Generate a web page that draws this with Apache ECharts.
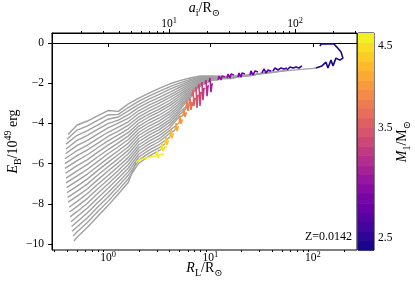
<!DOCTYPE html>
<html><head><meta charset="utf-8">
<script src="https://cdn.jsdelivr.net/npm/echarts@6/dist/echarts.min.js"></script>
<style>html,body{margin:0;padding:0;background:#fff}#c{width:415px;height:282px}</style>
</head><body><div id="c"></div>
<script>
// ---------------- data ----------------
const R_GRID = [0.5, 0.63, 0.79, 1, 1.26, 1.58, 2, 2.51, 3.16, 3.98, 5.01, 6.31, 7.94, 10, 15.8, 25.1, 39.8, 63.1, 100];
const M1 = [2.45,2.52,2.59,2.67,2.74,2.82,2.91,2.99,3.08,3.17,3.26,3.36,3.46,3.56,3.66,3.77,3.88,3.99,4.11,4.23,4.35,4.48,4.61];
const START_R = [0.407,0.398,0.389,0.389,0.385,0.380,0.380,0.380,0.385,0.389,0.389,0.394,0.398,0.403,0.407,0.417,0.421,0.426,0.436,0.441,0.446,0.456,0.466];
const START_E = [-4.55,-4.79,-5.03,-5.27,-5.51,-5.76,-6.00,-6.24,-6.48,-6.72,-6.96,-7.20,-7.44,-7.68,-7.92,-8.17,-8.41,-8.65,-8.89,-9.13,-9.37,-9.61,-9.85];
const E_TRACK = [
 [-4.08,-3.88,-3.62,-3.36,-3.40,-3.03,-2.74,-2.49,-2.26,-2.04,-1.87,-1.74,-1.64,-1.64,-1.66,-1.57,-1.46,-1.35,-1.26],
 [-4.33,-4.12,-3.85,-3.58,-3.55,-3.21,-2.89,-2.64,-2.41,-2.18,-1.98,-1.82,-1.69,-1.67,-1.68,-1.59,-1.47],
 [-4.59,-4.36,-4.08,-3.79,-3.68,-3.38,-3.05,-2.79,-2.55,-2.31,-2.09,-1.89,-1.73,-1.70,-1.71,-1.61],
 [-4.84,-4.60,-4.30,-4.01,-3.84,-3.56,-3.20,-2.94,-2.70,-2.45,-2.20,-1.97,-1.78,-1.73,-1.73,-1.62],
 [-5.09,-4.84,-4.53,-4.22,-3.98,-3.74,-3.36,-3.09,-2.85,-2.59,-2.32,-2.04,-1.82,-1.76,-1.75],
 [-5.35,-5.08,-4.76,-4.44,-4.18,-3.92,-3.51,-3.24,-2.99,-2.72,-2.43,-2.12,-1.87,-1.79,-1.77],
 [-5.60,-5.32,-4.99,-4.65,-4.38,-4.09,-3.67,-3.39,-3.14,-2.86,-2.54,-2.20,-1.91,-1.82],
 [-5.85,-5.56,-5.21,-4.87,-4.57,-4.27,-3.82,-3.54,-3.29,-3.00,-2.65,-2.27,-1.96,-1.85],
 [-6.10,-5.80,-5.44,-5.08,-4.77,-4.45,-3.98,-3.68,-3.43,-3.13,-2.76,-2.35,-2.00],
 [-6.36,-6.04,-5.67,-5.30,-4.97,-4.62,-4.13,-3.83,-3.58,-3.27,-2.87,-2.42,-2.05],
 [-6.61,-6.28,-5.90,-5.51,-5.16,-4.80,-4.28,-3.98,-3.73,-3.41,-2.98,-2.50],
 [-6.86,-6.52,-6.13,-5.73,-5.36,-4.98,-4.44,-4.13,-3.87,-3.54,-3.10,-2.58],
 [-7.12,-6.76,-6.35,-5.94,-5.55,-5.16,-4.59,-4.28,-4.02,-3.68,-3.21,-2.65],
 [-7.37,-7.01,-6.58,-6.16,-5.75,-5.33,-4.75,-4.43,-4.17,-3.82,-3.32,-2.73],
 [-7.62,-7.25,-6.81,-6.37,-5.95,-5.51,-4.90,-4.58,-4.31,-3.95,-3.43],
 [-7.88,-7.49,-7.04,-6.59,-6.14,-5.69,-5.06,-4.73,-4.46,-4.09,-3.54],
 [-8.13,-7.73,-7.26,-6.80,-6.34,-5.86,-5.21,-4.88,-4.61,-4.23,-3.65],
 [-8.38,-7.97,-7.49,-7.02,-6.53,-6.04,-5.36,-5.03,-4.76,-4.36],
 [-8.63,-8.21,-7.72,-7.23,-6.73,-6.22,-5.52,-5.18,-4.90,-4.50],
 [-8.89,-8.45,-7.95,-7.45,-6.93,-6.40,-5.67,-5.33,-5.05],
 [-9.14,-8.69,-8.17,-7.66,-7.12,-6.57,-5.83,-5.48,-5.20],
 [-9.39,-8.93,-8.40,-7.88,-7.32,-6.75,-5.98,-5.63,-5.34],
 [-9.65,-9.17,-8.63,-8.09,-7.51,-6.93]
];
const SEG = [
 [[107,-1.24],[122.4,-1.14],[134,-0.95],[140,-1.24],[150,-0.85],[157,-1.14],[167.5,-0.75],[183,-0.85],[196,-0.75],[188,-0.45],[171,-0.20],[160,-0.05],[120,-0.05],[117,-0.15]],
 [[55.8,-1.34],[59.7,-1.19],[63.8,-1.24],[68.3,-1.19],[73.0,-1.24],[78.1,-1.14]],
 [[40.7,-1.39],[42.6,-1.24],[45.6,-1.34],[48.7,-1.24],[52.1,-1.29],[55.8,-1.24]],
 [[31.8,-1.49],[33.3,-1.29],[34.8,-1.49],[36.4,-1.34],[38.9,-1.39]],
 [[24.3,-1.59],[24.8,-1.39],[26.0,-1.59],[27.2,-1.39],[29.1,-1.44]],
 [[18.55,-1.69],[18.97,-1.49],[19.84,-1.69],[20.29,-1.49],[21.71,-1.54]],
 [[14.49,-1.74],[14.82,-1.54],[15.50,-1.74],[15.85,-1.54],[16.96,-1.59]],
 [[11.84,-1.84],[12.11,-1.64],[12.66,-1.84],[12.95,-1.64],[13.85,-1.69]],
 [[9.67,-1.94],[9.89,-1.74],[10.11,-2.44],[10.34,-2.04],[10.58,-2.04]],
 [[8.84,-2.04],[9.04,-1.84],[9.25,-2.64],[9.45,-2.14],[9.67,-2.14]],
 [[8.08,-2.14],[8.26,-1.94],[8.45,-2.84],[8.64,-2.24],[8.84,-2.29]],
 [[7.55,-2.24],[7.72,-2.04],[7.90,-3.13],[8.08,-2.44],[8.26,-2.49]],
 [[7.06,-2.39],[7.22,-2.19],[7.38,-3.23],[7.55,-2.59],[7.72,-2.64]],
 [[6.60,-2.64],[6.75,-2.34],[6.90,-3.13],[7.06,-2.74],[7.22,-2.84]],
 [[6.17,-3.03],[6.31,-2.74],[6.45,-3.33],[6.60,-2.94],[6.75,-3.13]],
 [[5.77,-3.28],[5.90,-2.89],[6.03,-3.38],[6.17,-3.08],[6.31,-3.13]],
 [[5.39,-3.63],[5.51,-3.28],[5.64,-3.68],[5.77,-3.48],[5.90,-3.48]],
 [[4.93,-3.98],[5.04,-3.63],[5.15,-4.03],[5.27,-3.83],[5.39,-3.83]],
 [[4.51,-4.33],[4.61,-3.98],[4.71,-4.38],[4.82,-4.18],[4.93,-4.18]],
 [[4.03,-4.68],[4.12,-4.33],[4.21,-4.73],[4.31,-4.53],[4.41,-4.53]],
 [[3.60,-5.02],[3.68,-4.68],[3.76,-5.07],[3.85,-4.88],[3.94,-4.88]],
 [[3.29,-5.32],[3.36,-4.98],[3.44,-5.37],[3.60,-5.17],[3.76,-5.17]],
 [[1.88,-5.92],[2.15,-5.77],[2.57,-5.67],[2.94,-5.62],[3.01,-5.37],[3.07,-5.72],[3.15,-5.57],[3.52,-5.52]]
];
const X_TICKS = [1, 10, 100];
const X_MINOR = [0.3,0.4,0.5,0.6,0.7,0.8,0.9,2,3,4,5,6,7,8,9,20,30,40,50,60,70,80,90,200];
const TOP_TICKS = [10, 100];
const TOP_MINOR = [2,3,4,5,6,7,8,9,20,30,40,50,60,70,80,90,200,300];
const Y_TICKS = [-10, -8, -6, -4, -2, 0];
const CB_TICKS = [2.5, 3.5, 4.5];
const CB_EDGES = [2.41,2.48,2.55,2.63,2.70,2.78,2.87,2.95,3.04,3.12,3.22,3.31,3.41,3.51,3.61,3.72,3.82,3.94,4.05,4.17,4.29,4.42,4.55,4.68];
const Z_LABEL = 'Z=0.0142';

// ---------------- styling helpers ----------------
const serif = '"Liberation Serif", "DejaVu Serif", serif';
const PLASMA = ['#0d0887','#41049d','#6a00a8','#8f0da4','#b12a90','#cc4778','#e16462','#f2844b','#fca636','#fcce25','#f0f921'];
function hx(h){return [parseInt(h.slice(1,3),16),parseInt(h.slice(3,5),16),parseInt(h.slice(5,7),16)];}
function plasma(t){
  t = Math.max(0, Math.min(1, t));
  const s = t * (PLASMA.length - 1), i = Math.min(PLASMA.length - 2, Math.floor(s)), f = s - i;
  const a = hx(PLASMA[i]), b = hx(PLASMA[i + 1]);
  return 'rgb(' + a.map((v, j) => Math.round(v + (b[j] - v) * f)).join(',') + ')';
}
const M_MIN = CB_EDGES[0], M_MAX = CB_EDGES[CB_EDGES.length - 1];
function massColor(m){ return plasma(Math.log(m / M_MIN) / Math.log(M_MAX / M_MIN)); }

const nameRich = {
  i: {fontFamily: serif, fontStyle: 'italic', fontSize: 14, lineHeight: 20, verticalAlign: 'middle', color: '#000'},
  n: {fontFamily: serif, fontSize: 14, lineHeight: 20, verticalAlign: 'middle', color: '#000'},
  b: {fontFamily: serif, fontSize: 10, verticalAlign: 'bottom', color: '#000'},
  p: {fontFamily: serif, fontSize: 10, verticalAlign: 'top', color: '#000'}
};
const powLabel = {
  fontFamily: serif, fontSize: 11.5, lineHeight: 15, color: '#000',
  formatter: v => '10{s|' + Math.round(Math.log10(v)) + '}',
  rich: {s: {fontFamily: serif, fontSize: 8.5, verticalAlign: 'top', color: '#000'}}
};
const blackLine = {show: true, lineStyle: {color: '#000', width: 1}};

// ---------------- series ----------------
const series = [];
E_TRACK.forEach((row, k) => {
  const pts = [[START_R[k], START_E[k]]];
  row.forEach((e, i) => pts.push([R_GRID[i], e]));
  pts.push(SEG[k][0]);
  series.push({type: 'line', xAxisIndex: 0, yAxisIndex: 0, data: pts, symbol: 'none', silent: true,
    lineStyle: {color: '#a0a0a0', width: 1.4}, z: 2});
});
SEG.forEach((seg, k) => {
  series.push({type: 'line', xAxisIndex: 0, yAxisIndex: 0, data: seg, symbol: 'none', silent: true,
    lineStyle: {color: massColor(M1[k]), width: 1.6}, z: 3});
});
const cbData = CB_EDGES.slice(0, -1).map((lo, j) => [0, lo, CB_EDGES[j + 1], j]);
series.push({
  type: 'custom', xAxisIndex: 2, yAxisIndex: 1, data: cbData, encode: {x: 0, y: 1}, silent: true, clip: false, z: 1,
  renderItem: (params, api) => {
    const lo = api.value(1), hi = api.value(2), j = api.value(3);
    const a = api.coord([0, lo]), b = api.coord([1, hi]);
    return {type: 'rect', shape: {x: a[0], y: b[1], width: b[0] - a[0], height: a[1] - b[1] + 0.6},
      style: {fill: plasma((j + 0.5) / (CB_EDGES.length - 1))}};
  }
});

const GRID = {left: 52, top: 33, width: 305, height: 217};
const option = {
  animation: false,
  backgroundColor: '#fff',
  grid: [
    Object.assign({show: true, borderColor: '#000', borderWidth: 1, backgroundColor: 'transparent', containLabel: false, outerBoundsMode: 'none'}, GRID),
    {left: 358, top: 33, width: 16, height: 217, show: true, borderColor: '#000', borderWidth: 1, containLabel: false, outerBoundsMode: 'none'},
    Object.assign({show: false, containLabel: false, outerBoundsMode: 'none'}, GRID)
  ],
  xAxis: [
    {gridIndex: 0, type: 'log', position: 'bottom', min: 0.284, max: 269,
     axisLine: blackLine, splitLine: {show: false},
     axisTick: {show: true, inside: false, length: 4, customValues: X_TICKS, lineStyle: {color: '#000'}},
     axisLabel: Object.assign({}, powLabel, {customValues: X_TICKS, margin: 0}),
     name: '{i|R}{b|L}{n|/R}{b|⊙}', nameLocation: 'middle', nameGap: 8, nameMoveOverlap: false,
     nameTextStyle: {rich: nameRich}},
    {gridIndex: 0, type: 'log', position: 'top', min: 1.179, max: 310,
     axisLine: blackLine, splitLine: {show: false},
     axisTick: {show: true, inside: false, length: 4, customValues: TOP_TICKS, lineStyle: {color: '#000'}},
     axisLabel: Object.assign({}, powLabel, {customValues: TOP_TICKS, margin: 2}),
     name: '{i|a}{b|i}{n|/R}{b|⊙}', nameLocation: 'middle', nameGap: 15, nameMoveOverlap: false,
     nameTextStyle: {rich: nameRich}},
    {gridIndex: 1, type: 'value', min: 0, max: 1, show: false},
    {gridIndex: 2, type: 'log', position: 'bottom', min: 0.284, max: 269,
     axisLine: {show: false}, splitLine: {show: false}, axisLabel: {show: false},
     axisTick: {show: true, inside: false, length: 2, customValues: X_MINOR, lineStyle: {color: '#000'}}},
    {gridIndex: 2, type: 'log', position: 'top', min: 1.179, max: 310,
     axisLine: {show: false}, splitLine: {show: false}, axisLabel: {show: false},
     axisTick: {show: true, inside: false, length: 2, customValues: TOP_MINOR, lineStyle: {color: '#000'}}}
  ],
  yAxis: [
    {gridIndex: 0, type: 'value', min: -10.3, max: 0.5,
     axisLine: blackLine, splitLine: {show: false},
     axisTick: {show: true, inside: false, length: 4, customValues: Y_TICKS, lineStyle: {color: '#000'}},
     axisLabel: {customValues: Y_TICKS, margin: 8, fontFamily: serif, fontSize: 11.5, color: '#000',
       formatter: v => String(v).replace('-', '\u2212')},
     name: '{i|E}{b|B}{n|/10}{p|49}{n| erg}', nameLocation: 'middle', nameRotate: 90, nameGap: 29,
     nameMoveOverlap: false, nameTextStyle: {rich: nameRich}},
    {gridIndex: 1, type: 'log', position: 'right', min: M_MIN, max: M_MAX,
     axisLine: {show: false}, splitLine: {show: false},
     axisTick: {show: true, inside: false, length: 3, customValues: CB_TICKS, lineStyle: {color: '#000'}},
     axisLabel: {customValues: CB_TICKS, margin: 4, fontFamily: serif, fontSize: 11.5, color: '#000',
       formatter: v => Number(v).toFixed(1)},
     name: '{i|M}{b|1}{n|/M}{b|⊙}', nameLocation: 'middle', nameRotate: 90, nameGap: 18,
     nameMoveOverlap: false, nameTextStyle: {rich: nameRich}},
    {gridIndex: 2, type: 'value', min: 0, max: 1, show: false}
  ],
  graphic: [{type: 'text', right: 63, top: 231, z: 10,
    style: {text: Z_LABEL, fontFamily: serif, fontSize: 12, fill: '#000'}}],
  series: series
};
const chart = echarts.init(document.getElementById('c'), null, {renderer: 'canvas', width: 415, height: 282});
chart.setOption(option);
</script>
</body></html>
